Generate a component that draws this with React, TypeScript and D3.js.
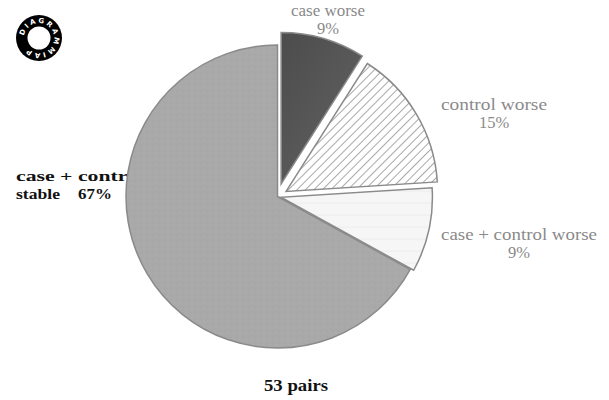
import React from "react";
import * as d3 from "d3";

const categories = ["case worse", "control worse", "case + control worse", "case + control stable"];
const values = [9, 15, 9, 67];
const valueLabels = ["9%", "15%", "9%", "67%"];
const leftLabelLines = ["case + control", "stable"];
const footnote = "53 pairs";

const W = 609;
const H = 400;
const CX = 277.5;
const CY = 196.5;
const R = 151.5;
const explode = [13, 10, 3.5, 0];
const fills = ["url(#darkGrad)", "url(#hatch)", "url(#lightLines)", "url(#grayTex)"];

export default function App() {
  const pie = d3.pie<number>().sort(null).startAngle(0).endAngle(2 * Math.PI);
  const arcs = pie(values);
  const arcGen = d3.arc<d3.PieArcDatum<number>>().innerRadius(0).outerRadius(R);

  const labelStyle = { fontFamily: "Liberation Serif, Times New Roman, serif", fill: "#8a8a8a", fontSize: 16.5 } as const;
  const boldStyle = { fontFamily: "Liberation Serif, Times New Roman, serif", fill: "#111", fontSize: 15, fontWeight: 700 } as const;

  const order = [3, 2, 1, 0];
  const LX = 39, LY = 38;

  return (
    <svg width={W} height={H} style={{ position: "absolute", left: 0, top: 0, background: "#fff" }}>
      <defs>
        <linearGradient id="darkGrad" x1="0" y1="0" x2="1" y2="1">
          <stop offset="0" stopColor="#4c4c4c" />
          <stop offset="1" stopColor="#636363" />
        </linearGradient>
        <pattern id="hatch" width="6" height="6" patternUnits="userSpaceOnUse" patternTransform="rotate(45)">
          <rect width="6" height="6" fill="#fff" />
          <line x1="0" y1="0" x2="0" y2="6" stroke="#7a7a7a" strokeWidth="1.3" />
        </pattern>
        <pattern id="lightLines" width="10" height="12" patternUnits="userSpaceOnUse">
          <rect width="10" height="12" fill="#f6f6f6" />
          <line x1="0" y1="6" x2="10" y2="6" stroke="#ececec" strokeWidth="1" />
        </pattern>
        <pattern id="grayTex" width="6" height="6" patternUnits="userSpaceOnUse">
          <rect width="6" height="6" fill="#a9a9a9" />
          <rect x="1" y="2" width="1" height="1" fill="#a2a2a2" />
          <rect x="4" y="4" width="1" height="1" fill="#b0b0b0" />
        </pattern>
        <path id="ringPath" d={`M ${LX - 15},${LY} a 15,15 0 1,1 30,0 a 15,15 0 1,1 -30,0`} />
      </defs>

      {/* logo */}
      <circle cx={LX} cy={LY} r={23} fill="#000" />
      <circle cx={LX} cy={LY} r={11.5} fill="#fff" />
      <text style={{ fontFamily: "DejaVu Sans, sans-serif", fontSize: 7, fontWeight: 700, fill: "#fff", letterSpacing: 2.2 }}>
        <textPath href="#ringPath" startOffset="2">
          DIAGRAMMIAP
        </textPath>
      </text>

      {/* left label drawn below the pie (the pie clips it) */}
      <text x={16} y={181} style={boldStyle} textLength={128} lengthAdjust="spacingAndGlyphs">{leftLabelLines[0]}</text>
      <text x={16} y={199} style={boldStyle} textLength={44} lengthAdjust="spacingAndGlyphs">{leftLabelLines[1]}</text>
      <text x={78} y={199} style={boldStyle} textLength={34} lengthAdjust="spacingAndGlyphs">{valueLabels[3]}</text>

      {order.map((i) => {
        const a = arcs[i];
        const mid = (a.startAngle + a.endAngle) / 2;
        const dx = Math.sin(mid) * explode[i];
        const dy = -Math.cos(mid) * explode[i];
        return (
          <path
            key={i}
            d={arcGen(a) || ""}
            transform={`translate(${CX + dx},${CY + dy})`}
            fill={fills[i]}
            stroke="#8a8a8a"
            strokeWidth={1.5}
            strokeLinejoin="miter"
          />
        );
      })}

      {/* right labels */}
      <text x={328} y={16} textAnchor="middle" style={labelStyle} textLength={74} lengthAdjust="spacingAndGlyphs">{categories[0]}</text>
      <text x={328} y={34} textAnchor="middle" style={labelStyle}>{valueLabels[0]}</text>

      <text x={494} y={110} textAnchor="middle" style={labelStyle} textLength={106} lengthAdjust="spacingAndGlyphs">{categories[1]}</text>
      <text x={494} y={128} textAnchor="middle" style={labelStyle}>{valueLabels[1]}</text>

      <text x={519} y={240} textAnchor="middle" style={labelStyle} textLength={156} lengthAdjust="spacingAndGlyphs">{categories[2]}</text>
      <text x={519} y={258} textAnchor="middle" style={labelStyle}>{valueLabels[2]}</text>

      <text x={296} y={391} textAnchor="middle" style={{ ...boldStyle, fontSize: 16.5 }} textLength={64} lengthAdjust="spacingAndGlyphs">{footnote}</text>
    </svg>
  );
}
